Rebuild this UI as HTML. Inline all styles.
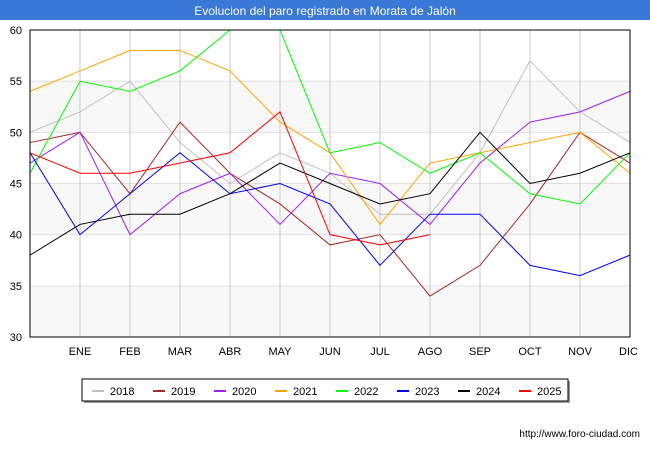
<!DOCTYPE html>
<html><head><meta charset="utf-8"><style>
body{margin:0;width:650px;height:450px;background:#fff;font-family:"Liberation Sans",sans-serif;overflow:hidden}
</style></head><body>
<svg width="650" height="450">
<rect x="0" y="0" width="650" height="20" fill="#3a78d8"/>
<text x="325" y="15" text-anchor="middle" font-size="12" fill="#fff">Evolucion del paro registrado en Morata de Jalón</text>
<g id="bands"></g><g id="grid"></g><g id="series"></g>
<rect x="30" y="30" width="600" height="307" fill="none" stroke="#000"/>
<g id="axes" font-size="11" fill="#000"></g>
<rect x="84" y="381" width="486" height="22" fill="#999"/>
<rect x="82" y="379" width="486" height="22" fill="#fff" stroke="#000"/>
<g id="legend" font-size="11"></g>
<text x="640" y="437" text-anchor="end" font-size="10">http://www.foro-ciudad.com</text>
</svg>
<script>
const months=["","ENE","FEB","MAR","ABR","MAY","JUN","JUL","AGO","SEP","OCT","NOV","DIC"];
const yTicks=[30,35,40,45,50,55,60];
const years=["2018","2019","2020","2021","2022","2023","2024","2025"];
const colors=["#c0c0c0","#a52a2a","#a020f0","#ffa500","#00ff00","#0000ff","#000000","#ff0000"];
const s2018=[50,52,55,49,45,48,46,42,42,48,57,52,49];
const s2019=[49,50,44,51,46,43,39,40,34,37,43,50,47];
const s2020=[47,50,40,44,46,41,46,45,41,47,51,52,54];
const s2021=[54,56,58,58,56,51,48,41,47,48,49,50,46];
const s2022=[46,55,54,56,60,60,48,49,46,48,44,43,48];
const s2023=[48,40,44,48,44,45,43,37,42,42,37,36,38];
const s2024=[38,41,42,42,44,47,45,43,44,50,45,46,48];
const s2025=[48,46,46,47,48,52,40,39,40];
const series=[s2018,s2019,s2020,s2021,s2022,s2023,s2024,s2025];
const NS="http://www.w3.org/2000/svg";
const X=i=>30+i*50, Y=v=>337-(v-30)*307/30;
function mk(t,a,p){const e=document.createElementNS(NS,t);for(const k in a)e.setAttribute(k,a[k]);p.appendChild(e);return e;}
const bands=document.getElementById('bands'),grid=document.getElementById('grid'),ax=document.getElementById('axes'),sg=document.getElementById('series'),lg=document.getElementById('legend');
for(let i=0;i<yTicks.length-1;i++){if(i%2==0){const b=mk('rect',{x:30,y:Y(yTicks[i+1]),width:600,height:Y(yTicks[i])-Y(yTicks[i+1]),fill:'#f8f8f8'},bands);

}}
yTicks.forEach(v=>{const l=mk('line',{x1:30,x2:630,y1:Y(v),y2:Y(v),stroke:'#e0e0e0'},grid);


const t=mk('text',{x:22,y:Y(v)+4,'text-anchor':'end'},ax);t.textContent=v;

});
months.forEach((m,i)=>{if(i>0){const l=mk('line',{x1:X(i),x2:X(i),y1:30,y2:337,stroke:'#c8c8c8'},grid);


const t=mk('text',{x:X(i),y:355,'text-anchor':i==12?'end':'middle'},ax);if(i==12)t.setAttribute('x',X(i)+8);t.textContent=m;

}});
series.forEach((s,k)=>{const p=mk('polyline',{points:s.map((v,i)=>X(i)+','+Y(v)).join(' '),fill:'none',stroke:colors[k],'stroke-width':1},sg);

});
years.forEach((y,k)=>{const x0=92+k*61;const l=mk('line',{x1:x0,x2:x0+12,y1:391,y2:391,stroke:colors[k],'stroke-width':2},lg);


const t=mk('text',{x:x0+18,y:395},lg);t.textContent=y;

});
</script>
</body></html>
